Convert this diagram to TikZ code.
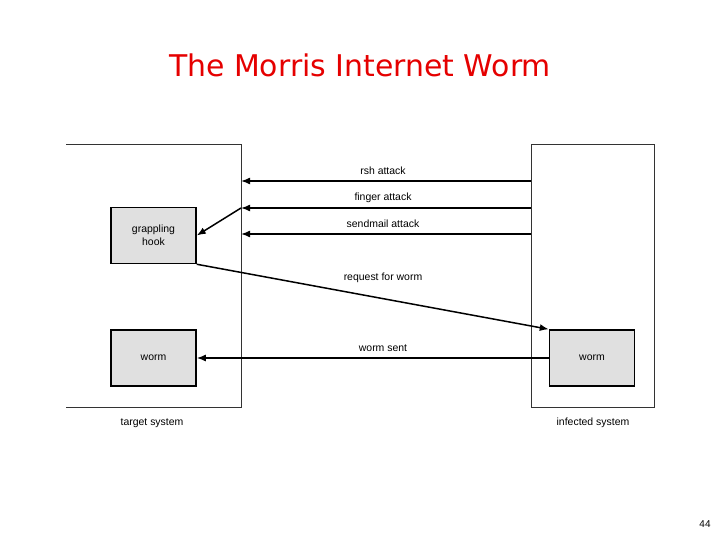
\documentclass[tikz,border=0pt]{standalone}
\usepackage{fontspec}
\setmainfont{Liberation Sans}
\newfontfamily\titlefont{DejaVu Sans}
\usetikzlibrary{arrows.meta}
\begin{document}
\begin{tikzpicture}[x=1bp,y=-1bp,
  box/.style={draw,line width=1.5bp,fill=black!12,minimum width=85bp,minimum height=56bp,inner sep=0pt,align=center,font=\fontsize{10.5}{13}\selectfont},
  sys/.style={draw=black!80,line width=1bp},
  arr/.style={line width=1.5bp,-{Latex[length=9bp,width=7bp]}},
  lbl/.style={font=\fontsize{10.5}{12}\selectfont,inner sep=0pt}]
\useasboundingbox (0,0) rectangle (720,540);
\node[font=\titlefont\fontsize{30}{34}\selectfont,text=red!90!black] (title) at (360,65) {The Morris Internet Worm};
\draw[sys] (66,145) -- (241,145) -- (241,407) -- (66,407);
\draw[sys] (531,145) rectangle (654,407);
\node[box] (gh) at (153.5,235.5) {grappling\\hook};
\node[box] (wl) at (153.5,358) {worm};
\node[box] (wr) at (592,358) {worm};
\coordinate (r1) at (531,181); \coordinate (l1) at (241,181);
\coordinate (r2) at (531,208); \coordinate (l2) at (241,208);
\coordinate (r3) at (531,234); \coordinate (l3) at (241,234);
\draw[arr] (r1) -- (l1);
\draw[arr] (r2) -- (l2);
\draw[arr] (r3) -- (l3);
\draw[arr] (l2) -- (gh.east);
\draw[arr] (gh.south east) -- (wr.north west);
\draw[arr] (wr.west) -- (wl.east);
\node[lbl] (t1) at (383,171) {rsh attack};
\node[lbl] (t2) at (383,198) {finger attack};
\node[lbl] (t3) at (383,224) {sendmail attack};
\node[lbl] (t4) at (383,278) {request for worm};
\node[lbl] (t5) at (383,348) {worm sent};
\node[lbl] (ts) at (152,423) {target system};
\node[lbl] (is) at (593,423) {infected system};
\node[lbl,font=\fontsize{10}{12}\selectfont] (pg) at (705,524) {44};
\end{tikzpicture}
\end{document}
